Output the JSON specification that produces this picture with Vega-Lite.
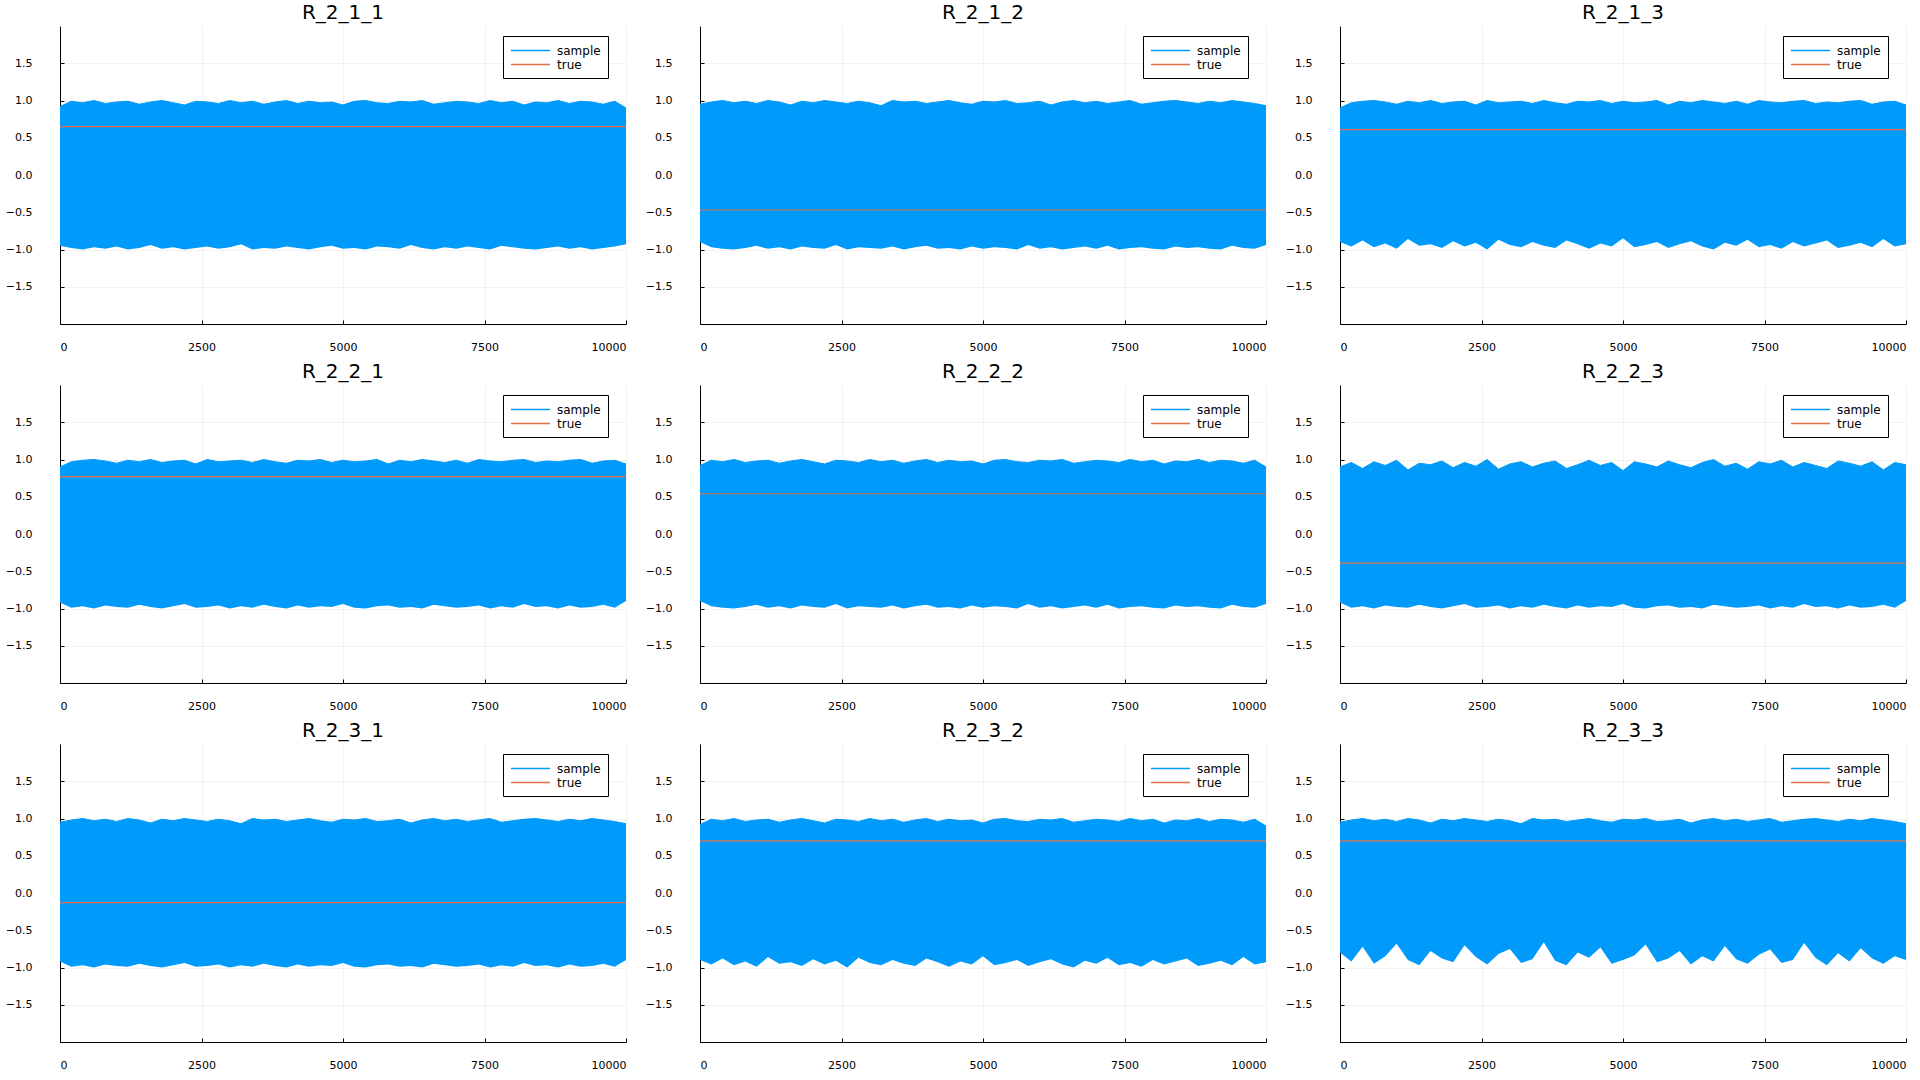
{
"$schema":"https://vega.github.io/schema/vega-lite/v6.json",
"background":"white",
"padding":{"left":5,"top":3,"right":0,"bottom":0},
"bounds":"flush",
"columns":3,
"spacing":{"column":74,"row":61},
"resolve":{"scale":{"color":"independent"},"legend":{"color":"independent"}},
"config":{
 "font":"DejaVu Sans",
 "view":{"stroke":null},
 "axis":{"domainColor":"#000000","domainWidth":1,"grid":true,"gridColor":"#000000","gridOpacity":0.1,"gridWidth":0.5,"labelFontSize":11,"labelColor":"#000000","labelFont":"DejaVu Sans","tickColor":"#000000","tickSize":-4,"tickWidth":1},
 "axisX":{"labelPadding":21},
 "axisY":{"labelPadding":32},
 "legend":{"orient":"none","legendX":443,"legendY":10,"strokeColor":"#000000","fillColor":"#ffffff","padding":7,"labelFontSize":12,"labelColor":"#000000","labelFont":"DejaVu Sans","symbolType":"M-1,0H5","symbolSize":169,"symbolStrokeWidth":1.5,"labelOffset":32,"rowPadding":0,"cornerRadius":0},
 "title":{"fontSize":20,"fontWeight":"normal","color":"#000000","font":"DejaVu Sans","offset":3,"anchor":"middle"}
},
"datasets":{
"p11":[{"x":0,"h":0.92,"l":-0.95},{"x":200,"h":0.99,"l":-0.98},{"x":400,"h":0.97,"l":-1.0},{"x":600,"h":1.0,"l":-0.97},{"x":800,"h":0.96,"l":-0.99},{"x":1000,"h":0.98,"l":-0.96},{"x":1200,"h":0.99,"l":-1.0},{"x":1400,"h":0.95,"l":-0.98},{"x":1600,"h":0.98,"l":-0.94},{"x":1800,"h":1.0,"l":-0.99},{"x":2000,"h":0.97,"l":-0.97},{"x":2200,"h":0.94,"l":-1.0},{"x":2400,"h":0.99,"l":-0.98},{"x":2600,"h":0.98,"l":-0.96},{"x":2800,"h":0.96,"l":-0.99},{"x":3000,"h":1.0,"l":-0.97},{"x":3200,"h":0.97,"l":-0.93},{"x":3400,"h":0.99,"l":-1.0},{"x":3600,"h":0.95,"l":-0.98},{"x":3800,"h":0.98,"l":-0.99},{"x":4000,"h":1.0,"l":-0.96},{"x":4200,"h":0.96,"l":-0.98},{"x":4400,"h":0.99,"l":-1.0},{"x":4600,"h":0.97,"l":-0.97},{"x":4800,"h":0.98,"l":-0.95},{"x":5000,"h":0.94,"l":-0.99},{"x":5200,"h":0.99,"l":-0.98},{"x":5400,"h":1.0,"l":-1.0},{"x":5600,"h":0.97,"l":-0.96},{"x":5800,"h":0.96,"l":-0.97},{"x":6000,"h":0.99,"l":-0.99},{"x":6200,"h":0.98,"l":-0.94},{"x":6400,"h":1.0,"l":-0.98},{"x":6600,"h":0.95,"l":-1.0},{"x":6800,"h":0.97,"l":-0.97},{"x":7000,"h":0.99,"l":-0.99},{"x":7200,"h":0.98,"l":-0.96},{"x":7400,"h":0.96,"l":-0.98},{"x":7600,"h":1.0,"l":-1.0},{"x":7800,"h":0.97,"l":-0.95},{"x":8000,"h":0.99,"l":-0.97},{"x":8200,"h":0.94,"l":-0.99},{"x":8400,"h":0.98,"l":-1.0},{"x":8600,"h":0.97,"l":-0.98},{"x":8800,"h":1.0,"l":-0.96},{"x":9000,"h":0.96,"l":-0.99},{"x":9200,"h":0.99,"l":-0.97},{"x":9400,"h":0.98,"l":-1.0},{"x":9600,"h":0.95,"l":-0.98},{"x":9800,"h":0.99,"l":-0.96},{"x":10000,"h":0.9,"l":-0.93}],
"p12":[{"x":0,"h":0.95,"l":-0.9},{"x":200,"h":0.98,"l":-0.97},{"x":400,"h":1.0,"l":-0.99},{"x":600,"h":0.97,"l":-1.0},{"x":800,"h":0.99,"l":-0.98},{"x":1000,"h":0.96,"l":-0.95},{"x":1200,"h":1.0,"l":-0.99},{"x":1400,"h":0.98,"l":-0.97},{"x":1600,"h":0.94,"l":-1.0},{"x":1800,"h":0.99,"l":-0.96},{"x":2000,"h":0.97,"l":-0.98},{"x":2200,"h":1.0,"l":-0.99},{"x":2400,"h":0.98,"l":-0.94},{"x":2600,"h":0.96,"l":-1.0},{"x":2800,"h":0.99,"l":-0.97},{"x":3000,"h":0.97,"l":-0.98},{"x":3200,"h":0.93,"l":-0.99},{"x":3400,"h":1.0,"l":-0.96},{"x":3600,"h":0.98,"l":-1.0},{"x":3800,"h":0.99,"l":-0.97},{"x":4000,"h":0.96,"l":-0.95},{"x":4200,"h":0.98,"l":-0.99},{"x":4400,"h":1.0,"l":-0.98},{"x":4600,"h":0.97,"l":-1.0},{"x":4800,"h":0.95,"l":-0.96},{"x":5000,"h":0.99,"l":-0.99},{"x":5200,"h":0.98,"l":-0.97},{"x":5400,"h":1.0,"l":-0.98},{"x":5600,"h":0.96,"l":-1.0},{"x":5800,"h":0.97,"l":-0.94},{"x":6000,"h":0.99,"l":-0.99},{"x":6200,"h":0.94,"l":-0.97},{"x":6400,"h":0.98,"l":-1.0},{"x":6600,"h":1.0,"l":-0.98},{"x":6800,"h":0.97,"l":-0.96},{"x":7000,"h":0.99,"l":-0.99},{"x":7200,"h":0.96,"l":-0.95},{"x":7400,"h":0.98,"l":-1.0},{"x":7600,"h":1.0,"l":-0.98},{"x":7800,"h":0.95,"l":-0.97},{"x":8000,"h":0.97,"l":-0.99},{"x":8200,"h":0.99,"l":-1.0},{"x":8400,"h":1.0,"l":-0.96},{"x":8600,"h":0.98,"l":-0.98},{"x":8800,"h":0.96,"l":-0.97},{"x":9000,"h":0.99,"l":-0.99},{"x":9200,"h":0.97,"l":-1.0},{"x":9400,"h":1.0,"l":-0.95},{"x":9600,"h":0.98,"l":-0.98},{"x":9800,"h":0.96,"l":-0.99},{"x":10000,"h":0.93,"l":-0.94}],
"p13":[{"x":0,"h":0.9,"l":-0.9},{"x":200,"h":0.97,"l":-0.96},{"x":400,"h":0.99,"l":-0.88},{"x":600,"h":1.0,"l":-0.97},{"x":800,"h":0.98,"l":-0.92},{"x":1000,"h":0.95,"l":-0.99},{"x":1200,"h":0.99,"l":-0.86},{"x":1400,"h":0.97,"l":-0.95},{"x":1600,"h":1.0,"l":-0.93},{"x":1800,"h":0.96,"l":-0.98},{"x":2000,"h":0.98,"l":-0.89},{"x":2200,"h":0.99,"l":-0.96},{"x":2400,"h":0.94,"l":-0.91},{"x":2600,"h":1.0,"l":-1.0},{"x":2800,"h":0.97,"l":-0.87},{"x":3000,"h":0.98,"l":-0.94},{"x":3200,"h":0.99,"l":-0.97},{"x":3400,"h":0.96,"l":-0.9},{"x":3600,"h":1.0,"l":-0.95},{"x":3800,"h":0.97,"l":-0.98},{"x":4000,"h":0.95,"l":-0.88},{"x":4200,"h":0.99,"l":-0.93},{"x":4400,"h":0.98,"l":-0.99},{"x":4600,"h":1.0,"l":-0.92},{"x":4800,"h":0.96,"l":-0.96},{"x":5000,"h":0.99,"l":-0.85},{"x":5200,"h":0.97,"l":-0.97},{"x":5400,"h":0.98,"l":-0.94},{"x":5600,"h":1.0,"l":-0.9},{"x":5800,"h":0.94,"l":-0.98},{"x":6000,"h":0.99,"l":-0.93},{"x":6200,"h":0.97,"l":-0.89},{"x":6400,"h":1.0,"l":-0.96},{"x":6600,"h":0.98,"l":-1.0},{"x":6800,"h":0.96,"l":-0.91},{"x":7000,"h":0.99,"l":-0.95},{"x":7200,"h":0.95,"l":-0.87},{"x":7400,"h":1.0,"l":-0.97},{"x":7600,"h":0.98,"l":-0.94},{"x":7800,"h":0.97,"l":-0.99},{"x":8000,"h":0.99,"l":-0.9},{"x":8200,"h":1.0,"l":-0.96},{"x":8400,"h":0.96,"l":-0.92},{"x":8600,"h":0.98,"l":-0.88},{"x":8800,"h":0.97,"l":-0.98},{"x":9000,"h":0.99,"l":-0.95},{"x":9200,"h":1.0,"l":-0.91},{"x":9400,"h":0.95,"l":-0.97},{"x":9600,"h":0.98,"l":-0.86},{"x":9800,"h":0.99,"l":-0.96},{"x":10000,"h":0.94,"l":-0.93}],
"p21":[{"x":0,"h":0.9,"l":-0.92},{"x":200,"h":0.97,"l":-0.99},{"x":400,"h":0.99,"l":-0.97},{"x":600,"h":1.0,"l":-1.0},{"x":800,"h":0.98,"l":-0.96},{"x":1000,"h":0.95,"l":-0.98},{"x":1200,"h":0.99,"l":-0.99},{"x":1400,"h":0.97,"l":-0.95},{"x":1600,"h":1.0,"l":-0.98},{"x":1800,"h":0.96,"l":-1.0},{"x":2000,"h":0.98,"l":-0.97},{"x":2200,"h":0.99,"l":-0.94},{"x":2400,"h":0.94,"l":-0.99},{"x":2600,"h":1.0,"l":-0.98},{"x":2800,"h":0.97,"l":-0.96},{"x":3000,"h":0.98,"l":-1.0},{"x":3200,"h":0.99,"l":-0.97},{"x":3400,"h":0.96,"l":-0.99},{"x":3600,"h":1.0,"l":-0.95},{"x":3800,"h":0.97,"l":-0.98},{"x":4000,"h":0.95,"l":-1.0},{"x":4200,"h":0.99,"l":-0.96},{"x":4400,"h":0.98,"l":-0.99},{"x":4600,"h":1.0,"l":-0.97},{"x":4800,"h":0.96,"l":-0.98},{"x":5000,"h":0.99,"l":-0.94},{"x":5200,"h":0.97,"l":-0.99},{"x":5400,"h":0.98,"l":-1.0},{"x":5600,"h":1.0,"l":-0.97},{"x":5800,"h":0.94,"l":-0.96},{"x":6000,"h":0.99,"l":-0.99},{"x":6200,"h":0.97,"l":-0.98},{"x":6400,"h":1.0,"l":-1.0},{"x":6600,"h":0.98,"l":-0.95},{"x":6800,"h":0.96,"l":-0.97},{"x":7000,"h":0.99,"l":-0.99},{"x":7200,"h":0.95,"l":-0.98},{"x":7400,"h":1.0,"l":-0.96},{"x":7600,"h":0.98,"l":-1.0},{"x":7800,"h":0.97,"l":-0.97},{"x":8000,"h":0.99,"l":-0.99},{"x":8200,"h":1.0,"l":-0.94},{"x":8400,"h":0.96,"l":-0.98},{"x":8600,"h":0.98,"l":-0.97},{"x":8800,"h":0.97,"l":-1.0},{"x":9000,"h":0.99,"l":-0.96},{"x":9200,"h":1.0,"l":-0.99},{"x":9400,"h":0.95,"l":-0.98},{"x":9600,"h":0.98,"l":-0.95},{"x":9800,"h":0.99,"l":-0.99},{"x":10000,"h":0.94,"l":-0.9}],
"p22":[{"x":0,"h":0.92,"l":-0.9},{"x":200,"h":0.99,"l":-0.97},{"x":400,"h":0.97,"l":-0.99},{"x":600,"h":1.0,"l":-1.0},{"x":800,"h":0.96,"l":-0.98},{"x":1000,"h":0.98,"l":-0.95},{"x":1200,"h":0.99,"l":-0.99},{"x":1400,"h":0.95,"l":-0.97},{"x":1600,"h":0.98,"l":-1.0},{"x":1800,"h":1.0,"l":-0.96},{"x":2000,"h":0.97,"l":-0.98},{"x":2200,"h":0.94,"l":-0.99},{"x":2400,"h":0.99,"l":-0.94},{"x":2600,"h":0.98,"l":-1.0},{"x":2800,"h":0.96,"l":-0.97},{"x":3000,"h":1.0,"l":-0.98},{"x":3200,"h":0.97,"l":-0.99},{"x":3400,"h":0.99,"l":-0.96},{"x":3600,"h":0.95,"l":-1.0},{"x":3800,"h":0.98,"l":-0.97},{"x":4000,"h":1.0,"l":-0.95},{"x":4200,"h":0.96,"l":-0.99},{"x":4400,"h":0.99,"l":-0.98},{"x":4600,"h":0.97,"l":-1.0},{"x":4800,"h":0.98,"l":-0.96},{"x":5000,"h":0.94,"l":-0.99},{"x":5200,"h":0.99,"l":-0.97},{"x":5400,"h":1.0,"l":-0.98},{"x":5600,"h":0.97,"l":-1.0},{"x":5800,"h":0.96,"l":-0.94},{"x":6000,"h":0.99,"l":-0.99},{"x":6200,"h":0.98,"l":-0.97},{"x":6400,"h":1.0,"l":-1.0},{"x":6600,"h":0.95,"l":-0.98},{"x":6800,"h":0.97,"l":-0.96},{"x":7000,"h":0.99,"l":-0.99},{"x":7200,"h":0.98,"l":-0.95},{"x":7400,"h":0.96,"l":-1.0},{"x":7600,"h":1.0,"l":-0.98},{"x":7800,"h":0.97,"l":-0.97},{"x":8000,"h":0.99,"l":-0.99},{"x":8200,"h":0.94,"l":-1.0},{"x":8400,"h":0.98,"l":-0.96},{"x":8600,"h":0.97,"l":-0.98},{"x":8800,"h":1.0,"l":-0.97},{"x":9000,"h":0.96,"l":-0.99},{"x":9200,"h":0.99,"l":-1.0},{"x":9400,"h":0.98,"l":-0.95},{"x":9600,"h":0.95,"l":-0.98},{"x":9800,"h":0.99,"l":-0.99},{"x":10000,"h":0.9,"l":-0.94}],
"p23":[{"x":0,"h":0.9,"l":-0.92},{"x":200,"h":0.96,"l":-0.99},{"x":400,"h":0.88,"l":-0.97},{"x":600,"h":0.97,"l":-1.0},{"x":800,"h":0.92,"l":-0.96},{"x":1000,"h":0.99,"l":-0.98},{"x":1200,"h":0.86,"l":-0.99},{"x":1400,"h":0.95,"l":-0.95},{"x":1600,"h":0.93,"l":-0.98},{"x":1800,"h":0.98,"l":-1.0},{"x":2000,"h":0.89,"l":-0.97},{"x":2200,"h":0.96,"l":-0.94},{"x":2400,"h":0.91,"l":-0.99},{"x":2600,"h":1.0,"l":-0.98},{"x":2800,"h":0.87,"l":-0.96},{"x":3000,"h":0.94,"l":-1.0},{"x":3200,"h":0.97,"l":-0.97},{"x":3400,"h":0.9,"l":-0.99},{"x":3600,"h":0.95,"l":-0.95},{"x":3800,"h":0.98,"l":-0.98},{"x":4000,"h":0.88,"l":-1.0},{"x":4200,"h":0.93,"l":-0.96},{"x":4400,"h":0.99,"l":-0.99},{"x":4600,"h":0.92,"l":-0.97},{"x":4800,"h":0.96,"l":-0.98},{"x":5000,"h":0.85,"l":-0.94},{"x":5200,"h":0.97,"l":-0.99},{"x":5400,"h":0.94,"l":-1.0},{"x":5600,"h":0.9,"l":-0.97},{"x":5800,"h":0.98,"l":-0.96},{"x":6000,"h":0.93,"l":-0.99},{"x":6200,"h":0.89,"l":-0.98},{"x":6400,"h":0.96,"l":-1.0},{"x":6600,"h":1.0,"l":-0.95},{"x":6800,"h":0.91,"l":-0.97},{"x":7000,"h":0.95,"l":-0.99},{"x":7200,"h":0.87,"l":-0.98},{"x":7400,"h":0.97,"l":-0.96},{"x":7600,"h":0.94,"l":-1.0},{"x":7800,"h":0.99,"l":-0.97},{"x":8000,"h":0.9,"l":-0.99},{"x":8200,"h":0.96,"l":-0.94},{"x":8400,"h":0.92,"l":-0.98},{"x":8600,"h":0.88,"l":-0.97},{"x":8800,"h":0.98,"l":-1.0},{"x":9000,"h":0.95,"l":-0.96},{"x":9200,"h":0.91,"l":-0.99},{"x":9400,"h":0.97,"l":-0.98},{"x":9600,"h":0.86,"l":-0.95},{"x":9800,"h":0.96,"l":-0.99},{"x":10000,"h":0.93,"l":-0.9}],
"p31":[{"x":0,"h":0.95,"l":-0.92},{"x":200,"h":0.98,"l":-0.99},{"x":400,"h":1.0,"l":-0.97},{"x":600,"h":0.97,"l":-1.0},{"x":800,"h":0.99,"l":-0.96},{"x":1000,"h":0.96,"l":-0.98},{"x":1200,"h":1.0,"l":-0.99},{"x":1400,"h":0.98,"l":-0.95},{"x":1600,"h":0.94,"l":-0.98},{"x":1800,"h":0.99,"l":-1.0},{"x":2000,"h":0.97,"l":-0.97},{"x":2200,"h":1.0,"l":-0.94},{"x":2400,"h":0.98,"l":-0.99},{"x":2600,"h":0.96,"l":-0.98},{"x":2800,"h":0.99,"l":-0.96},{"x":3000,"h":0.97,"l":-1.0},{"x":3200,"h":0.93,"l":-0.97},{"x":3400,"h":1.0,"l":-0.99},{"x":3600,"h":0.98,"l":-0.95},{"x":3800,"h":0.99,"l":-0.98},{"x":4000,"h":0.96,"l":-1.0},{"x":4200,"h":0.98,"l":-0.96},{"x":4400,"h":1.0,"l":-0.99},{"x":4600,"h":0.97,"l":-0.97},{"x":4800,"h":0.95,"l":-0.98},{"x":5000,"h":0.99,"l":-0.94},{"x":5200,"h":0.98,"l":-0.99},{"x":5400,"h":1.0,"l":-1.0},{"x":5600,"h":0.96,"l":-0.97},{"x":5800,"h":0.97,"l":-0.96},{"x":6000,"h":0.99,"l":-0.99},{"x":6200,"h":0.94,"l":-0.98},{"x":6400,"h":0.98,"l":-1.0},{"x":6600,"h":1.0,"l":-0.95},{"x":6800,"h":0.97,"l":-0.97},{"x":7000,"h":0.99,"l":-0.99},{"x":7200,"h":0.96,"l":-0.98},{"x":7400,"h":0.98,"l":-0.96},{"x":7600,"h":1.0,"l":-1.0},{"x":7800,"h":0.95,"l":-0.97},{"x":8000,"h":0.97,"l":-0.99},{"x":8200,"h":0.99,"l":-0.94},{"x":8400,"h":1.0,"l":-0.98},{"x":8600,"h":0.98,"l":-0.97},{"x":8800,"h":0.96,"l":-1.0},{"x":9000,"h":0.99,"l":-0.96},{"x":9200,"h":0.97,"l":-0.99},{"x":9400,"h":1.0,"l":-0.98},{"x":9600,"h":0.98,"l":-0.95},{"x":9800,"h":0.96,"l":-0.99},{"x":10000,"h":0.93,"l":-0.9}],
"p32":[{"x":0,"h":0.92,"l":-0.9},{"x":200,"h":0.99,"l":-0.96},{"x":400,"h":0.97,"l":-0.88},{"x":600,"h":1.0,"l":-0.97},{"x":800,"h":0.96,"l":-0.92},{"x":1000,"h":0.98,"l":-0.99},{"x":1200,"h":0.99,"l":-0.86},{"x":1400,"h":0.95,"l":-0.95},{"x":1600,"h":0.98,"l":-0.93},{"x":1800,"h":1.0,"l":-0.98},{"x":2000,"h":0.97,"l":-0.89},{"x":2200,"h":0.94,"l":-0.96},{"x":2400,"h":0.99,"l":-0.91},{"x":2600,"h":0.98,"l":-1.0},{"x":2800,"h":0.96,"l":-0.87},{"x":3000,"h":1.0,"l":-0.94},{"x":3200,"h":0.97,"l":-0.97},{"x":3400,"h":0.99,"l":-0.9},{"x":3600,"h":0.95,"l":-0.95},{"x":3800,"h":0.98,"l":-0.98},{"x":4000,"h":1.0,"l":-0.88},{"x":4200,"h":0.96,"l":-0.93},{"x":4400,"h":0.99,"l":-0.99},{"x":4600,"h":0.97,"l":-0.92},{"x":4800,"h":0.98,"l":-0.96},{"x":5000,"h":0.94,"l":-0.85},{"x":5200,"h":0.99,"l":-0.97},{"x":5400,"h":1.0,"l":-0.94},{"x":5600,"h":0.97,"l":-0.9},{"x":5800,"h":0.96,"l":-0.98},{"x":6000,"h":0.99,"l":-0.93},{"x":6200,"h":0.98,"l":-0.89},{"x":6400,"h":1.0,"l":-0.96},{"x":6600,"h":0.95,"l":-1.0},{"x":6800,"h":0.97,"l":-0.91},{"x":7000,"h":0.99,"l":-0.95},{"x":7200,"h":0.98,"l":-0.87},{"x":7400,"h":0.96,"l":-0.97},{"x":7600,"h":1.0,"l":-0.94},{"x":7800,"h":0.97,"l":-0.99},{"x":8000,"h":0.99,"l":-0.9},{"x":8200,"h":0.94,"l":-0.96},{"x":8400,"h":0.98,"l":-0.92},{"x":8600,"h":0.97,"l":-0.88},{"x":8800,"h":1.0,"l":-0.98},{"x":9000,"h":0.96,"l":-0.95},{"x":9200,"h":0.99,"l":-0.91},{"x":9400,"h":0.98,"l":-0.97},{"x":9600,"h":0.95,"l":-0.86},{"x":9800,"h":0.99,"l":-0.96},{"x":10000,"h":0.9,"l":-0.93}],
"p33":[{"x":0,"h":0.95,"l":-0.8},{"x":200,"h":0.98,"l":-0.92},{"x":400,"h":1.0,"l":-0.72},{"x":600,"h":0.97,"l":-0.95},{"x":800,"h":0.99,"l":-0.85},{"x":1000,"h":0.96,"l":-0.68},{"x":1200,"h":1.0,"l":-0.9},{"x":1400,"h":0.98,"l":-0.97},{"x":1600,"h":0.94,"l":-0.78},{"x":1800,"h":0.99,"l":-0.88},{"x":2000,"h":0.97,"l":-0.93},{"x":2200,"h":1.0,"l":-0.7},{"x":2400,"h":0.98,"l":-0.86},{"x":2600,"h":0.96,"l":-0.96},{"x":2800,"h":0.99,"l":-0.82},{"x":3000,"h":0.97,"l":-0.75},{"x":3200,"h":0.93,"l":-0.94},{"x":3400,"h":1.0,"l":-0.89},{"x":3600,"h":0.98,"l":-0.66},{"x":3800,"h":0.99,"l":-0.91},{"x":4000,"h":0.96,"l":-0.97},{"x":4200,"h":0.98,"l":-0.8},{"x":4400,"h":1.0,"l":-0.87},{"x":4600,"h":0.97,"l":-0.73},{"x":4800,"h":0.95,"l":-0.95},{"x":5000,"h":0.99,"l":-0.9},{"x":5200,"h":0.98,"l":-0.84},{"x":5400,"h":1.0,"l":-0.69},{"x":5600,"h":0.96,"l":-0.93},{"x":5800,"h":0.97,"l":-0.88},{"x":6000,"h":0.99,"l":-0.78},{"x":6200,"h":0.94,"l":-0.96},{"x":6400,"h":0.98,"l":-0.85},{"x":6600,"h":1.0,"l":-0.92},{"x":6800,"h":0.97,"l":-0.71},{"x":7000,"h":0.99,"l":-0.89},{"x":7200,"h":0.96,"l":-0.95},{"x":7400,"h":0.98,"l":-0.83},{"x":7600,"h":1.0,"l":-0.76},{"x":7800,"h":0.95,"l":-0.94},{"x":8000,"h":0.97,"l":-0.9},{"x":8200,"h":0.99,"l":-0.67},{"x":8400,"h":1.0,"l":-0.87},{"x":8600,"h":0.98,"l":-0.97},{"x":8800,"h":0.96,"l":-0.81},{"x":9000,"h":0.99,"l":-0.92},{"x":9200,"h":0.97,"l":-0.74},{"x":9400,"h":1.0,"l":-0.88},{"x":9600,"h":0.98,"l":-0.95},{"x":9800,"h":0.96,"l":-0.85},{"x":10000,"h":0.93,"l":-0.9}]
},
"concat":[
{"title":"R_2_1_1","width":566,"height":298,"layer":[
 {"data":{"name":"p11"},"mark":{"type":"area","color":"#009AFA"},"encoding":{"x":{"field":"x","type":"quantitative","title":null,"scale":{"domain":[0,10000],"nice":false,"zero":false},"axis":{"values":[0,2500,5000,7500,10000],"format":"d"}},"y":{"field":"h","type":"quantitative","title":null,"scale":{"domain":[-2,2],"nice":false},"axis":{"values":[-1.5,-1,-0.5,0,0.5,1,1.5],"format":".1f"}},"y2":{"field":"l"}}},
 {"data":{"name":"p11"},"mark":{"type":"line","strokeWidth":1},"encoding":{"x":{"field":"x","type":"quantitative","title":null},"y":{"field":"h","type":"quantitative","title":null},"color":{"datum":"sample","type":"nominal","scale":{"domain":["sample","true"],"range":["#009AFA","#E26F46"]},"legend":{"title":null}}}},
 {"data":{"values":[{"t":0.65}]},"mark":{"type":"rule","strokeWidth":1.2},"encoding":{"y":{"field":"t","type":"quantitative","title":null},"color":{"datum":"true","type":"nominal"}}}
]},
{"title":"R_2_1_2","width":566,"height":298,"layer":[
 {"data":{"name":"p12"},"mark":{"type":"area","color":"#009AFA"},"encoding":{"x":{"field":"x","type":"quantitative","title":null,"scale":{"domain":[0,10000],"nice":false,"zero":false},"axis":{"values":[0,2500,5000,7500,10000],"format":"d"}},"y":{"field":"h","type":"quantitative","title":null,"scale":{"domain":[-2,2],"nice":false},"axis":{"values":[-1.5,-1,-0.5,0,0.5,1,1.5],"format":".1f"}},"y2":{"field":"l"}}},
 {"data":{"name":"p12"},"mark":{"type":"line","strokeWidth":1},"encoding":{"x":{"field":"x","type":"quantitative","title":null},"y":{"field":"h","type":"quantitative","title":null},"color":{"datum":"sample","type":"nominal","scale":{"domain":["sample","true"],"range":["#009AFA","#E26F46"]},"legend":{"title":null}}}},
 {"data":{"values":[{"t":-0.47}]},"mark":{"type":"rule","strokeWidth":1.2},"encoding":{"y":{"field":"t","type":"quantitative","title":null},"color":{"datum":"true","type":"nominal"}}}
]},
{"title":"R_2_1_3","width":566,"height":298,"layer":[
 {"data":{"name":"p13"},"mark":{"type":"area","color":"#009AFA"},"encoding":{"x":{"field":"x","type":"quantitative","title":null,"scale":{"domain":[0,10000],"nice":false,"zero":false},"axis":{"values":[0,2500,5000,7500,10000],"format":"d"}},"y":{"field":"h","type":"quantitative","title":null,"scale":{"domain":[-2,2],"nice":false},"axis":{"values":[-1.5,-1,-0.5,0,0.5,1,1.5],"format":".1f"}},"y2":{"field":"l"}}},
 {"data":{"name":"p13"},"mark":{"type":"line","strokeWidth":1},"encoding":{"x":{"field":"x","type":"quantitative","title":null},"y":{"field":"h","type":"quantitative","title":null},"color":{"datum":"sample","type":"nominal","scale":{"domain":["sample","true"],"range":["#009AFA","#E26F46"]},"legend":{"title":null}}}},
 {"data":{"values":[{"t":0.61}]},"mark":{"type":"rule","strokeWidth":1.2},"encoding":{"y":{"field":"t","type":"quantitative","title":null},"color":{"datum":"true","type":"nominal"}}}
]},
{"title":"R_2_2_1","width":566,"height":298,"layer":[
 {"data":{"name":"p21"},"mark":{"type":"area","color":"#009AFA"},"encoding":{"x":{"field":"x","type":"quantitative","title":null,"scale":{"domain":[0,10000],"nice":false,"zero":false},"axis":{"values":[0,2500,5000,7500,10000],"format":"d"}},"y":{"field":"h","type":"quantitative","title":null,"scale":{"domain":[-2,2],"nice":false},"axis":{"values":[-1.5,-1,-0.5,0,0.5,1,1.5],"format":".1f"}},"y2":{"field":"l"}}},
 {"data":{"name":"p21"},"mark":{"type":"line","strokeWidth":1},"encoding":{"x":{"field":"x","type":"quantitative","title":null},"y":{"field":"h","type":"quantitative","title":null},"color":{"datum":"sample","type":"nominal","scale":{"domain":["sample","true"],"range":["#009AFA","#E26F46"]},"legend":{"title":null}}}},
 {"data":{"values":[{"t":0.77}]},"mark":{"type":"rule","strokeWidth":1.2},"encoding":{"y":{"field":"t","type":"quantitative","title":null},"color":{"datum":"true","type":"nominal"}}}
]},
{"title":"R_2_2_2","width":566,"height":298,"layer":[
 {"data":{"name":"p22"},"mark":{"type":"area","color":"#009AFA"},"encoding":{"x":{"field":"x","type":"quantitative","title":null,"scale":{"domain":[0,10000],"nice":false,"zero":false},"axis":{"values":[0,2500,5000,7500,10000],"format":"d"}},"y":{"field":"h","type":"quantitative","title":null,"scale":{"domain":[-2,2],"nice":false},"axis":{"values":[-1.5,-1,-0.5,0,0.5,1,1.5],"format":".1f"}},"y2":{"field":"l"}}},
 {"data":{"name":"p22"},"mark":{"type":"line","strokeWidth":1},"encoding":{"x":{"field":"x","type":"quantitative","title":null},"y":{"field":"h","type":"quantitative","title":null},"color":{"datum":"sample","type":"nominal","scale":{"domain":["sample","true"],"range":["#009AFA","#E26F46"]},"legend":{"title":null}}}},
 {"data":{"values":[{"t":0.54}]},"mark":{"type":"rule","strokeWidth":1.2},"encoding":{"y":{"field":"t","type":"quantitative","title":null},"color":{"datum":"true","type":"nominal"}}}
]},
{"title":"R_2_2_3","width":566,"height":298,"layer":[
 {"data":{"name":"p23"},"mark":{"type":"area","color":"#009AFA"},"encoding":{"x":{"field":"x","type":"quantitative","title":null,"scale":{"domain":[0,10000],"nice":false,"zero":false},"axis":{"values":[0,2500,5000,7500,10000],"format":"d"}},"y":{"field":"h","type":"quantitative","title":null,"scale":{"domain":[-2,2],"nice":false},"axis":{"values":[-1.5,-1,-0.5,0,0.5,1,1.5],"format":".1f"}},"y2":{"field":"l"}}},
 {"data":{"name":"p23"},"mark":{"type":"line","strokeWidth":1},"encoding":{"x":{"field":"x","type":"quantitative","title":null},"y":{"field":"h","type":"quantitative","title":null},"color":{"datum":"sample","type":"nominal","scale":{"domain":["sample","true"],"range":["#009AFA","#E26F46"]},"legend":{"title":null}}}},
 {"data":{"values":[{"t":-0.39}]},"mark":{"type":"rule","strokeWidth":1.2},"encoding":{"y":{"field":"t","type":"quantitative","title":null},"color":{"datum":"true","type":"nominal"}}}
]},
{"title":"R_2_3_1","width":566,"height":298,"layer":[
 {"data":{"name":"p31"},"mark":{"type":"area","color":"#009AFA"},"encoding":{"x":{"field":"x","type":"quantitative","title":null,"scale":{"domain":[0,10000],"nice":false,"zero":false},"axis":{"values":[0,2500,5000,7500,10000],"format":"d"}},"y":{"field":"h","type":"quantitative","title":null,"scale":{"domain":[-2,2],"nice":false},"axis":{"values":[-1.5,-1,-0.5,0,0.5,1,1.5],"format":".1f"}},"y2":{"field":"l"}}},
 {"data":{"name":"p31"},"mark":{"type":"line","strokeWidth":1},"encoding":{"x":{"field":"x","type":"quantitative","title":null},"y":{"field":"h","type":"quantitative","title":null},"color":{"datum":"sample","type":"nominal","scale":{"domain":["sample","true"],"range":["#009AFA","#E26F46"]},"legend":{"title":null}}}},
 {"data":{"values":[{"t":-0.13}]},"mark":{"type":"rule","strokeWidth":1.2},"encoding":{"y":{"field":"t","type":"quantitative","title":null},"color":{"datum":"true","type":"nominal"}}}
]},
{"title":"R_2_3_2","width":566,"height":298,"layer":[
 {"data":{"name":"p32"},"mark":{"type":"area","color":"#009AFA"},"encoding":{"x":{"field":"x","type":"quantitative","title":null,"scale":{"domain":[0,10000],"nice":false,"zero":false},"axis":{"values":[0,2500,5000,7500,10000],"format":"d"}},"y":{"field":"h","type":"quantitative","title":null,"scale":{"domain":[-2,2],"nice":false},"axis":{"values":[-1.5,-1,-0.5,0,0.5,1,1.5],"format":".1f"}},"y2":{"field":"l"}}},
 {"data":{"name":"p32"},"mark":{"type":"line","strokeWidth":1},"encoding":{"x":{"field":"x","type":"quantitative","title":null},"y":{"field":"h","type":"quantitative","title":null},"color":{"datum":"sample","type":"nominal","scale":{"domain":["sample","true"],"range":["#009AFA","#E26F46"]},"legend":{"title":null}}}},
 {"data":{"values":[{"t":0.7}]},"mark":{"type":"rule","strokeWidth":1.2},"encoding":{"y":{"field":"t","type":"quantitative","title":null},"color":{"datum":"true","type":"nominal"}}}
]},
{"title":"R_2_3_3","width":566,"height":298,"layer":[
 {"data":{"name":"p33"},"mark":{"type":"area","color":"#009AFA"},"encoding":{"x":{"field":"x","type":"quantitative","title":null,"scale":{"domain":[0,10000],"nice":false,"zero":false},"axis":{"values":[0,2500,5000,7500,10000],"format":"d"}},"y":{"field":"h","type":"quantitative","title":null,"scale":{"domain":[-2,2],"nice":false},"axis":{"values":[-1.5,-1,-0.5,0,0.5,1,1.5],"format":".1f"}},"y2":{"field":"l"}}},
 {"data":{"name":"p33"},"mark":{"type":"line","strokeWidth":1},"encoding":{"x":{"field":"x","type":"quantitative","title":null},"y":{"field":"h","type":"quantitative","title":null},"color":{"datum":"sample","type":"nominal","scale":{"domain":["sample","true"],"range":["#009AFA","#E26F46"]},"legend":{"title":null}}}},
 {"data":{"values":[{"t":0.7}]},"mark":{"type":"rule","strokeWidth":1.2},"encoding":{"y":{"field":"t","type":"quantitative","title":null},"color":{"datum":"true","type":"nominal"}}}
]}
]
}
